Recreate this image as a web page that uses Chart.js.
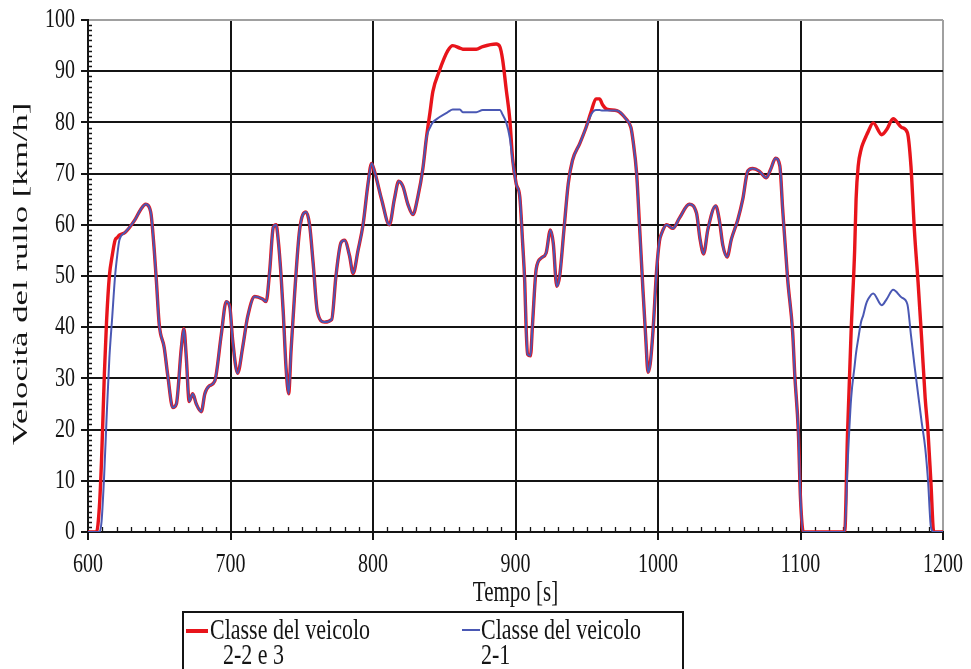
<!DOCTYPE html>
<html>
<head>
<meta charset="utf-8">
<script src="https://cdn.jsdelivr.net/npm/chart.js@4.4.1/dist/chart.umd.min.js"></script>
<style>
  html, body { margin: 0; padding: 0; background: #ffffff; }
  #wrap { width: 971px; height: 669px; }
</style>
</head>
<body>
<div id="wrap"><canvas id="chart" width="971" height="669"></canvas></div>
<script>
// Tempo [s]
const tempo = [
  600, 606, 608, 609.5, 611.5, 613, 615, 617, 619, 620.5,
  622, 626, 633, 637, 640.5, 644, 646.5, 648, 650, 653.5,
  656, 659.5, 662, 665.5, 667.3, 669, 671, 673.5, 676, 679.5,
  682, 685, 689, 693.5, 697, 699.5, 701.5, 705, 708.5, 712,
  717, 722.5, 725, 727.5, 730, 732, 733.5, 735.5, 737, 739,
  740.8, 742.5, 745, 748.5, 753, 755.5, 758, 761, 766, 771,
  774, 777.5, 780, 783.5, 786, 789.5, 793, 796.5, 799, 801,
  806, 811.5, 815, 818, 821, 824.5, 828, 831.5, 835, 837.5,
  840, 842, 846.5, 852.5, 856, 861, 863, 872.5, 877, 886.5,
  889, 891, 893.5, 896, 898, 900.5, 903, 905, 906.5, 907.5,
  908.5, 910.5, 912, 914.5, 918, 921.5, 924.5, 926.5, 929, 931,
  934, 937, 940, 945, 949.5, 953, 956.5, 959, 961, 964,
  971, 977.5, 981, 982.5, 985, 987, 989.5, 991.5, 993, 994.5,
  996.5, 999, 1001, 1002.5, 1006, 1010.5, 1015, 1022, 1027, 1029.5,
  1032, 1035, 1040.5, 1043, 1045.5, 1048.5, 1051.5, 1056, 1059.5, 1063,
  1066.5, 1071, 1076, 1079, 1082.5, 1085.5, 1087.5, 1091, 1094.5, 1096,
  1098.5, 1100, 1102, 1131, 1133, 1135.5, 1138, 1139, 1140.5, 1142.5,
  1144, 1146, 1147.5, 1151, 1157, 1160.5, 1165, 1171, 1175, 1177.5,
  1180, 1182.5, 1185, 1187.5, 1189.5, 1191.5, 1193.5, 1200
];

// Velocità del rullo [km/h] – classe del veicolo 2-2 e 3
const classe22e3 = [
  0, 0, 5, 14, 31, 41, 50, 54, 57, 57.5,
  58, 58.5, 61, 63, 64, 62.5, 55, 49, 40.5, 36,
  30.5, 24.3, 25, 36, 39.7, 34, 25.5, 27, 25, 23.5,
  27, 28.5, 29.5, 38.5, 45, 44, 37.5, 31, 36, 42,
  46, 45.5, 45, 51, 59.5, 60, 57, 50, 43, 32,
  27, 35.5, 46.5, 59, 62.5, 60, 52.5, 43, 41, 41.5,
  50, 56.5, 57, 54, 50.5, 55, 60, 68, 72, 70.5,
  65, 60, 65, 68.5, 67.5, 64, 62, 65.5, 71, 77,
  82, 86, 90, 94, 95, 94.5, 94.3, 94.3, 94.8, 95.3,
  94.8, 92.2, 86.4, 80.6, 72.8, 68, 65.5, 56.5, 48.7, 39.5,
  34.7, 34.4, 40.8, 51.3, 53.5, 54.5, 59, 56.4, 48, 50,
  59, 68, 72.6, 75.8, 79, 82, 84.6, 84.6, 83.5, 82.6,
  82.3, 80.7, 79, 76.4, 70, 60, 47, 37.4, 31.2, 32.8,
  39.3, 51, 56.8, 58.3, 60, 59.3, 61.3, 64, 62.3, 57.2,
  54.3, 59.1, 63.7, 61, 56, 53.7, 57.2, 61, 65, 70.5,
  71, 70.5, 69.2, 70.8, 73, 71.5, 63, 49.3, 39, 30.6,
  19.5, 6.5, 0, 0, 19.3, 39, 55, 65, 71.5, 74.7,
  76, 77.3, 78.2, 79.9, 77.6, 78.6, 80.7, 79, 78, 71.5,
  58.6, 48.8, 37.8, 26.1, 19.5, 9.8, 0, 0
];

// Velocità del rullo [km/h] – classe del veicolo 2-1
const classe21 = [
  0, 0, 0, 2, 12, 22, 34, 42, 50, 54,
  57, 58.5, 61, 63, 64, 62.5, 55, 49, 40.5, 36,
  30.5, 24.3, 25, 36, 39.7, 34, 25.5, 27, 25, 23.5,
  27, 28.5, 29.5, 38.5, 45, 44, 37.5, 31, 36, 42,
  46, 45.5, 45, 51, 59.5, 60, 57, 50, 43, 32,
  27, 35.5, 46.5, 59, 62.5, 60, 52.5, 43, 41, 41.5,
  50, 56.5, 57, 54, 50.5, 55, 60, 68, 72, 70.5,
  65, 60, 65, 68.5, 67.5, 64, 62, 65.5, 71, 77,
  79, 80, 81, 82, 82.5, 82.5, 82, 82, 82.4, 82.4,
  82.4, 81.5, 80, 77, 72.5, 68, 65.5, 56.5, 48.7, 39.5,
  34.7, 34.4, 40.8, 51.3, 53.5, 54.5, 59, 56.4, 48, 50,
  59, 68, 72.6, 75.8, 79, 81.5, 82.4, 82.4, 82.3, 82.3,
  82.3, 80.7, 79, 76.4, 70, 60, 47, 37.4, 31.2, 32.8,
  39.3, 51, 56.8, 58.3, 60, 59.3, 61.3, 64, 62.3, 57.2,
  54.3, 59.1, 63.7, 61, 56, 53.7, 57.2, 61, 65, 70.5,
  71, 70.5, 69.2, 70.8, 73, 71.5, 63, 49.3, 39, 30.6,
  19.5, 6.5, 0, 0, 13, 26, 32.5, 35, 37.7, 41,
  42.3, 44.5, 45.5, 46.6, 44.3, 45.5, 47.3, 45.8, 44.5, 38.5,
  32.5, 27, 21.5, 16.5, 10, 1, 0, 0
];

const xTickValues = [600, 700, 800, 900, 1000, 1100, 1200];
const yTickValues = [0, 10, 20, 30, 40, 50, 60, 70, 80, 90, 100];

const xTitle = 'Tempo [s]';
const yTitle = 'Velocità del rullo [km/h]';
const legendLabels = [['Classe del veicolo', '2-2 e 3'], ['Classe del veicolo', '2-1']];

const RED = '#e8141b';
const BLUE = '#4a58b4';
const INK = '#141414';
const SERIF = '"Liberation Serif", "DejaVu Serif", serif';
const TEXT_STRETCH = 1.38;   // glyphs are drawn taller than wide

function tallText(ctx, text, x, y, size, align, stretch) {
  ctx.save();
  ctx.translate(x, y);
  ctx.scale(1, stretch || TEXT_STRETCH);
  ctx.font = size + 'px ' + SERIF;
  ctx.fillStyle = INK;
  ctx.textAlign = align;
  ctx.textBaseline = 'middle';
  ctx.fillText(text, 0, 0);
  ctx.restore();
}

// minor tick marks along both axes, pointing into the plot
const minorTicks = {
  id: 'minorTicks',
  beforeDatasetsDraw(chart) {
    const { ctx, scales: { x, y } } = chart;
    const x0 = x.getPixelForValue(x.min);
    const y0 = y.getPixelForValue(y.min);
    ctx.save();
    ctx.strokeStyle = INK;
    ctx.lineWidth = 1.3;
    ctx.beginPath();
    for (let t = x.min + 10; t < x.max; t += 10) {
      if (t % 100 === 0) continue;
      const px = Math.round(x.getPixelForValue(t)) + 0.5;
      ctx.moveTo(px, y0);
      ctx.lineTo(px, y0 - 5);
    }
    for (let v = y.min + 1; v < y.max; v += 1) {
      if (v % 10 === 0) continue;
      const py = Math.round(y.getPixelForValue(v)) + 0.5;
      ctx.moveTo(x0, py);
      ctx.lineTo(x0 + 4, py);
    }
    ctx.stroke();
    ctx.restore();
  }
};

// tick labels, axis titles and the boxed legend
const annotations = {
  id: 'annotations',
  afterDraw(chart) {
    const { ctx, chartArea: a, scales: { x, y } } = chart;
    xTickValues.forEach(v => tallText(ctx, String(v), x.getPixelForValue(v), a.bottom + 33, 20, 'center'));
    yTickValues.forEach(v => tallText(ctx, String(v), a.left - 13, y.getPixelForValue(v), 20, 'right'));

    tallText(ctx, xTitle, (a.left + a.right) / 2, 593, 21, 'center');

    ctx.save();
    ctx.translate(21, 274);
    ctx.scale(1, 1.58);
    ctx.rotate(-Math.PI / 2);
    ctx.font = '22px ' + SERIF;
    ctx.fillStyle = INK;
    ctx.textAlign = 'center';
    ctx.textBaseline = 'middle';
    ctx.fillText(yTitle, 0, 0);
    ctx.restore();

    // legend box
    const bx = 183, by = 612, bw = 500, bh = 60;
    ctx.save();
    ctx.strokeStyle = INK;
    ctx.lineWidth = 2;
    ctx.strokeRect(bx, by, bw, bh);
    ctx.lineCap = 'butt';
    ctx.strokeStyle = RED;
    ctx.lineWidth = 4;
    ctx.beginPath(); ctx.moveTo(bx + 3, 631); ctx.lineTo(bx + 25, 631); ctx.stroke();
    ctx.strokeStyle = BLUE;
    ctx.lineWidth = 2;
    ctx.beginPath(); ctx.moveTo(bx + 279, 630); ctx.lineTo(bx + 297, 630); ctx.stroke();
    ctx.restore();
    tallText(ctx, legendLabels[0][0], bx + 27, 631, 22, 'left');
    tallText(ctx, legendLabels[0][1], bx + 40, 656, 22, 'left');
    tallText(ctx, legendLabels[1][0], bx + 298, 631, 22, 'left');
    tallText(ctx, legendLabels[1][1], bx + 298, 656, 22, 'left');
  }
};

const series = (vals) => tempo.map((t, i) => ({ x: t, y: vals[i] }));

new Chart(document.getElementById('chart'), {
  type: 'line',
  data: {
    datasets: [
      {
        label: 'Classe del veicolo 2-2 e 3',
        data: series(classe22e3),
        borderColor: RED,
        borderWidth: 3.4,
        pointRadius: 0,
        cubicInterpolationMode: 'monotone',
        order: 2
      },
      {
        label: 'Classe del veicolo 2-1',
        data: series(classe21),
        borderColor: BLUE,
        borderWidth: 2,
        pointRadius: 0,
        cubicInterpolationMode: 'monotone',
        order: 1
      }
    ]
  },
  options: {
    responsive: false,
    animation: false,
    devicePixelRatio: 1,
    layout: { padding: { left: 0, top: 20, right: 28, bottom: 92 } },
    plugins: { legend: { display: false }, tooltip: { enabled: false } },
    scales: {
      x: {
        type: 'linear',
        min: 600,
        max: 1200,
        afterFit(scale) { scale.height = 45; },
        afterBuildTicks(scale) { scale.ticks = xTickValues.map(v => ({ value: v })); },
        ticks: { display: false },
        grid: {
          color: ctx => (ctx.tick && ctx.tick.value === 1200 ? '#a0a0a0' : INK),
          lineWidth: 2,
          tickLength: 8,
          tickColor: INK,
          drawTicks: true
        },
        border: { display: true, color: INK, width: 2 }
      },
      y: {
        min: 0,
        max: 100,
        afterFit(scale) { scale.width = 88; },
        afterBuildTicks(scale) { scale.ticks = yTickValues.map(v => ({ value: v })); },
        ticks: { display: false },
        grid: {
          color: ctx => (ctx.tick && ctx.tick.value === 100 ? '#a0a0a0' : INK),
          lineWidth: 2,
          tickLength: 7,
          tickColor: INK,
          drawTicks: true
        },
        border: { display: true, color: INK, width: 2 }
      }
    }
  },
  plugins: [minorTicks, annotations]
});
</script>
</body>
</html>
